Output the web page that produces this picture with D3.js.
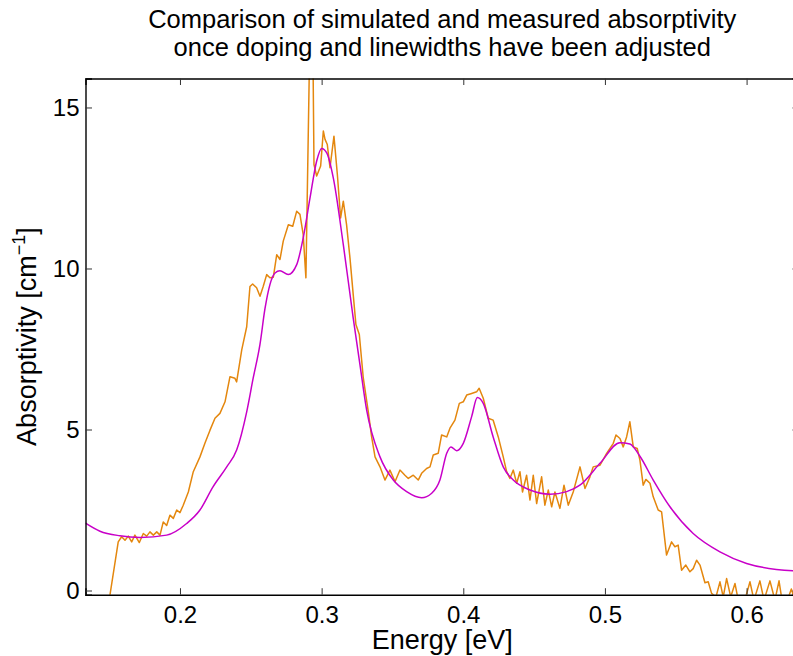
<!DOCTYPE html>
<html>
<head>
<meta charset="utf-8">
<script src="https://cdn.jsdelivr.net/npm/d3@7"></script>
<style>
  body { margin: 0; background: #fff; }
  text { font-family: "Liberation Sans", Arial, sans-serif; fill: #000; }
</style>
</head>
<body>
<div id="chart"></div>
<script>
// simulated absorptivity (smooth curve)
var simEnergy = [0.1333, 0.1435, 0.1576, 0.1718, 0.1906, 0.2047, 0.2141, 0.2233, 0.2330, 0.2400,
  0.2471, 0.2517, 0.2565, 0.2600, 0.2635, 0.2671, 0.2706, 0.2764, 0.2824, 0.2870, 0.2918, 0.2965,
  0.3000, 0.3036, 0.3082, 0.3153, 0.3223, 0.3271, 0.3318, 0.3412, 0.3506, 0.3600, 0.3706, 0.3777,
  0.3835, 0.3883, 0.3913, 0.3953, 0.4000, 0.4059, 0.4099, 0.4141, 0.4211, 0.4282, 0.4353, 0.4471,
  0.4612, 0.4730, 0.4823, 0.4965, 0.5106, 0.5176, 0.5247, 0.5341, 0.5459, 0.5623, 0.5812, 0.6000,
  0.6327, 0.6370];
var simAbs = [2.09, 1.84, 1.70, 1.65, 1.72, 2.08, 2.50, 3.22, 3.84, 4.36,
  5.55, 6.60, 7.65, 8.75, 9.50, 9.86, 9.93, 9.81, 10.12, 10.95, 12.19, 13.34,
  13.73, 13.59, 12.82, 10.74, 8.46, 7.00, 5.60, 4.15, 3.43, 3.07, 2.88, 3.02,
  3.43, 4.26, 4.46, 4.34, 4.57, 5.40, 5.99, 5.81, 4.77, 3.84, 3.43, 3.12,
  2.99, 3.07, 3.27, 3.95, 4.59, 4.55, 4.17, 3.43, 2.60, 1.77, 1.20, 0.84,
  0.61, 0.60];

// measured absorptivity (noisy)
var measEnergy = [0.1500, 0.1564, 0.1588, 0.1612, 0.1635, 0.1659, 0.1682, 0.1713, 0.1741, 0.1765,
  0.1788, 0.1812, 0.1836, 0.1859, 0.1882, 0.1906, 0.1929, 0.1953, 0.1977, 0.2000,
  0.2023, 0.2059, 0.2094, 0.2141, 0.2176, 0.2212, 0.2247, 0.2282, 0.2318, 0.2353,
  0.2388, 0.2400, 0.2436, 0.2471, 0.2494, 0.2513, 0.2541, 0.2565, 0.2588, 0.2612,
  0.2635, 0.2659, 0.2683, 0.2706, 0.2729, 0.2765, 0.2796, 0.2824, 0.2847, 0.2870,
  0.2889, 0.2918, 0.2937, 0.2946, 0.2965, 0.2993, 0.3012, 0.3024, 0.3040, 0.3059,
  0.3087, 0.3111, 0.3134, 0.3153, 0.3176, 0.3200, 0.3223, 0.3242, 0.3266, 0.3294,
  0.3329, 0.3353, 0.3377, 0.3412, 0.3447, 0.3482, 0.3518, 0.3553, 0.3588, 0.3612,
  0.3647, 0.3682, 0.3706, 0.3741, 0.3765, 0.3788, 0.3823, 0.3847, 0.3883, 0.3906,
  0.3941, 0.3972, 0.4000, 0.4024, 0.4059, 0.4094, 0.4112, 0.4141, 0.4176, 0.4211,
  0.4247, 0.4282, 0.4306, 0.4329, 0.4353, 0.4377, 0.4400, 0.4418, 0.4447, 0.4471,
  0.4494, 0.4518, 0.4553, 0.4576, 0.4600, 0.4624, 0.4647, 0.4682, 0.4711, 0.4741,
  0.4776, 0.4824, 0.4859, 0.4894, 0.4917, 0.4965, 0.5012, 0.5059, 0.5078, 0.5106,
  0.5129, 0.5153, 0.5176, 0.5200, 0.5228, 0.5247, 0.5270, 0.5289, 0.5318, 0.5341,
  0.5376, 0.5400, 0.5435, 0.5470, 0.5494, 0.5517, 0.5541, 0.5571, 0.5600, 0.5623,
  0.5647, 0.5671, 0.5706, 0.5729, 0.5753, 0.5784, 0.5812, 0.5835, 0.5859, 0.5888,
  0.5918, 0.5941, 0.5981, 0.6024, 0.6052, 0.6094, 0.6123, 0.6165, 0.6200, 0.6229,
  0.6250, 0.6280, 0.6316, 0.6340];
var measAbs = [-0.30, 1.51, 1.67, 1.56, 1.69, 1.51, 1.72, 1.49, 1.77, 1.69,
  1.82, 1.72, 1.82, 1.72, 2.13, 2.02, 2.34, 2.24, 2.50, 2.42,
  2.65, 3.06, 3.69, 4.15, 4.57, 4.98, 5.35, 5.50, 5.86, 6.64,
  6.59, 6.48, 7.47, 8.19, 9.44, 9.52, 9.40, 9.14, 9.45, 9.81,
  9.71, 9.73, 10.43, 10.28, 10.85, 11.36, 11.31, 11.78, 11.68, 11.05,
  9.71, 17.5, 17.5, 13.23, 12.87, 13.18, 14.27, 14.01, 13.85, 13.13,
  14.11, 12.92, 11.57, 12.09, 11.36, 10.33, 9.19, 8.26, 7.95, 6.60,
  5.56, 4.77, 4.15, 3.84, 3.43, 3.74, 3.38, 3.74, 3.58, 3.48,
  3.58, 3.43, 3.64, 3.79, 3.84, 4.21, 4.26, 4.83, 4.77, 5.04,
  5.29, 5.81, 5.86, 6.07, 6.12, 6.17, 6.28, 5.97, 5.35, 5.29,
  4.77, 4.15, 3.69, 3.48, 3.74, 3.33, 3.69, 3.06, 3.58, 2.81,
  3.58, 2.70, 3.53, 2.65, 3.12, 2.60, 3.06, 2.55, 3.27, 2.65,
  3.06, 3.84, 3.17, 3.53, 3.84, 3.89, 4.26, 4.57, 4.83, 4.72,
  4.46, 4.77, 5.24, 4.46, 4.41, 4.05, 3.27, 3.45, 3.33, 2.91,
  2.50, 2.44, 1.10, 1.51, 1.36, 1.41, 0.63, 0.79, 0.58, 0.68,
  0.94, 0.79, 0.24, 0.27, -0.09, -0.20, 0.27, -0.20, 0.37, -0.20,
  0.22, -0.30, -0.40, 0.27, -0.30, 0.30, -0.30, 0.30, -0.30, 0.30,
  -0.30, -0.40, 0.05, -0.30];

var xTicks = [0.2, 0.3, 0.4, 0.5, 0.6];
var yTicks = [0, 5, 10, 15];
var titleLines = ["Comparison of simulated and measured absorptivity",
  "once doping and linewidths have been adjusted"];

var W = 793, H = 656;
var box = { left: 85.5, right: 799, top: 78.5, bottom: 594.7 };
var midX = (box.left + box.right) / 2;

var svg = d3
  .select("#chart")
  .append("svg")
  .attr("width", W)
  .attr("height", H);

var x = d3.scaleLinear().domain([0.1333, 0.637]).range([box.left, box.right]);
var y = d3.scaleLinear().domain([-0.13, 15.9]).range([box.bottom, box.top]);

svg.append("clipPath")
  .attr("id", "clip")
  .append("rect")
  .attr("x", box.left)
  .attr("y", box.top)
  .attr("width", box.right - box.left)
  .attr("height", box.bottom - box.top);

var simData = simEnergy.map((e, i) => [e, simAbs[i]]);
var measData = measEnergy.map((e, i) => [e, measAbs[i]]);

var plot = svg.append("g").attr("clip-path", "url(#clip)");

plot.append("path")
  .datum(measData)
  .attr("d", d3.line().x(d => x(d[0])).y(d => y(d[1])))
  .attr("fill", "none")
  .attr("stroke", "#e4870e")
  .attr("stroke-width", 1.5)
  .attr("stroke-linejoin", "round");

plot.append("path")
  .datum(simData)
  .attr("d", d3.line().curve(d3.curveMonotoneX).x(d => x(d[0])).y(d => y(d[1])))
  .attr("fill", "none")
  .attr("stroke", "#c800c8")
  .attr("stroke-width", 1.5);

// axes box, MATLAB style: ticks pointing inwards on all four sides
var tickLen = 6.5;
var bottomAxis = svg.append("g")
  .attr("transform", "translate(0," + box.bottom + ")")
  .call(d3.axisBottom(x).tickValues(xTicks).tickSize(-tickLen).tickPadding(11).tickFormat(d3.format(".1f")));
var topAxis = svg.append("g")
  .attr("transform", "translate(0," + box.top + ")")
  .call(d3.axisTop(x).tickValues(xTicks).tickSize(-tickLen).tickFormat(""));
var leftAxis = svg.append("g")
  .attr("transform", "translate(" + box.left + ",0)")
  .call(d3.axisLeft(y).tickValues(yTicks).tickSize(-tickLen).tickPadding(6));
var rightAxis = svg.append("g")
  .attr("transform", "translate(" + box.right + ",0)")
  .call(d3.axisRight(y).tickValues(yTicks).tickSize(-tickLen).tickFormat(""));

[bottomAxis, topAxis, leftAxis, rightAxis].forEach(function (a) {
  a.select(".domain").attr("stroke", "#000").attr("stroke-width", 1.4);
  a.selectAll(".tick line").attr("stroke", "#333").attr("stroke-width", 1);
  a.selectAll(".tick text")
    .style("font-size", "24px")
    .style("font-family", "'Liberation Sans', Arial, sans-serif")
    .attr("fill", "#000");
});

svg.append("text")
  .attr("x", midX)
  .attr("y", 28)
  .attr("text-anchor", "middle")
  .style("font-size", "25.5px")
  .text(titleLines[0]);
svg.append("text")
  .attr("x", midX)
  .attr("y", 56)
  .attr("text-anchor", "middle")
  .style("font-size", "25.5px")
  .text(titleLines[1]);

svg.append("text")
  .attr("x", midX)
  .attr("y", 649)
  .attr("text-anchor", "middle")
  .style("font-size", "27px")
  .text("Energy [eV]");

var yl = svg.append("text")
  .attr("transform", "translate(36," + (box.top + box.bottom) / 2 + ") rotate(-90)")
  .attr("text-anchor", "middle")
  .style("font-size", "27px");
yl.append("tspan").text("Absorptivity [cm");
yl.append("tspan").attr("dy", -11).style("font-size", "18px").text("\u22121");
yl.append("tspan").attr("dy", 11).text("]");
</script>
</body>
</html>
